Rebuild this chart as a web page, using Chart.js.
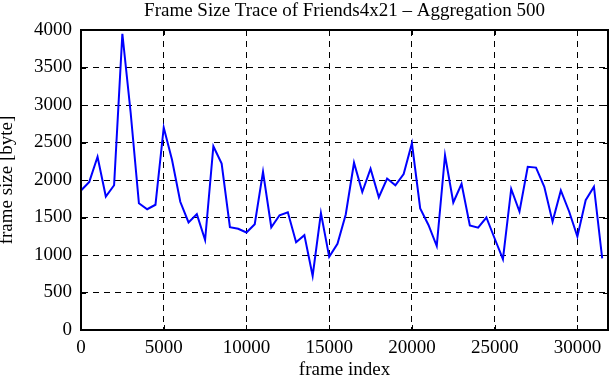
<!DOCTYPE html>
<html>
<head>
<meta charset="utf-8">
<script src="https://cdn.jsdelivr.net/npm/chart.js@4.4.0/dist/chart.umd.min.js"></script>
<style>
  html, body { margin: 0; padding: 0; background: #fff; }
  #wrap { width: 611px; height: 380px; }
</style>
</head>
<body>
<div id="wrap"><canvas id="traceChart"></canvas></div>
<script>
const frameIndex = [0, 500, 1000, 1500, 2000, 2500, 3000, 3500, 4000, 4500,
  5000, 5500, 6000, 6500, 7000, 7500, 8000, 8500, 9000, 9500,
  10000, 10500, 11000, 11500, 12000, 12500, 13000, 13500, 14000, 14500,
  15000, 15500, 16000, 16500, 17000, 17500, 18000, 18500, 19000, 19500,
  20000, 20500, 21000, 21500, 22000, 22500, 23000, 23500, 24000, 24500,
  25000, 25500, 26000, 26500, 27000, 27500, 28000, 28500, 29000, 29500,
  30000, 30500, 31000, 31500];

const frameSize = [1860, 1975, 2310, 1780, 1930, 3950, 2900, 1690, 1610, 1670,
  2700, 2270, 1710, 1435, 1545, 1200, 2450, 2220, 1370, 1350,
  1300, 1410, 2110, 1370, 1530, 1570, 1170, 1265, 720, 1560,
  975, 1150, 1540, 2230, 1840, 2150, 1770, 2020, 1930, 2080,
  2490, 1620, 1400, 1120, 2330, 1700, 1950, 1395, 1365, 1500,
  1220, 945, 1880, 1580, 2175, 2165, 1910, 1445, 1860, 1580,
  1245, 1730, 1910, 955];

const xTicks = [0, 5000, 10000, 15000, 20000, 25000, 30000];
const serif = '"Liberation Serif", "DejaVu Serif", serif';

// matlab-ish frame: box on all sides plus inward tick marks
const framePlugin = {
    id: 'frame',
    afterDraw(chart) {
        const { ctx, chartArea: a, scales } = chart;
        ctx.save();
        ctx.strokeStyle = '#000';
        ctx.lineWidth = 1;
        const len = 5;
        scales.x.ticks.forEach(t => {
            const px = Math.round(scales.x.getPixelForValue(t.value)) + 0.5;
            ctx.beginPath();
            ctx.moveTo(px, a.bottom); ctx.lineTo(px, a.bottom - len);
            ctx.moveTo(px, a.top); ctx.lineTo(px, a.top + len);
            ctx.stroke();
        });
        scales.y.ticks.forEach(t => {
            const py = Math.round(scales.y.getPixelForValue(t.value)) + 0.5;
            ctx.beginPath();
            ctx.moveTo(a.left, py); ctx.lineTo(a.left + len, py);
            ctx.moveTo(a.right, py); ctx.lineTo(a.right - len, py);
            ctx.stroke();
        });
        ctx.lineWidth = 2;
        ctx.strokeRect(a.left, a.top, a.right - a.left, a.bottom - a.top);
        ctx.restore();
    }
};

new Chart(document.getElementById('traceChart'), {
    type: 'line',
    data: {
        datasets: [{
            label: 'frame size',
            data: frameIndex.map((f, i) => ({ x: f, y: frameSize[i] })),
            borderColor: '#0000ff',
            borderWidth: 2,
            pointRadius: 0,
            tension: 0,
            fill: false
        }]
    },
    options: {
        responsive: true,
        maintainAspectRatio: false,
        animation: false,
        layout: { padding: { top: 0, right: 3, left: 0, bottom: 0 } },
        plugins: {
            legend: { display: false },
            tooltip: { enabled: false },
            title: { display: false }
        },
        scales: {
            x: {
                type: 'linear',
                min: 0,
                max: 31850,
                afterFit: (s) => { s.height = 50; },
                afterBuildTicks: (axis) => {
                    axis.ticks = xTicks.map(v => ({ value: v }));
                },
                ticks: {
                    color: '#000',
                    font: { family: serif, size: 19 },
                    padding: 7,
                    maxRotation: 0,
                    callback: (v) => String(v)
                },
                grid: { color: '#000', lineWidth: 1, drawTicks: false },
                border: { display: true, color: '#000', width: 2, dash: [6, 5] },
                title: {
                    display: true,
                    text: 'frame index',
                    color: '#000',
                    font: { family: serif, size: 19, lineHeight: 1 },
                    padding: { top: 0, bottom: 0 }
                }
            },
            // top axis only carries the title so it centres over the plot area
            top: {
                type: 'linear',
                position: 'top',
                min: 0,
                max: 31850,
                afterFit: (s) => { s.height = 30; },
                ticks: { display: false },
                grid: { display: false, drawTicks: false },
                border: { display: false },
                title: {
                    display: true,
                    text: 'Frame Size Trace of Friends4x21 \u2013 Aggregation 500',
                    color: '#000',
                    font: { family: serif, size: 19, lineHeight: 1.2 },
                    padding: { top: 0, bottom: 0 }
                }
            },
            y: {
                min: 0,
                max: 4000,
                afterFit: (s) => { s.width = 81; },
                ticks: {
                    stepSize: 500,
                    color: '#000',
                    font: { family: serif, size: 19 },
                    padding: 9,
                    callback: (v) => String(v)
                },
                grid: { color: '#000', lineWidth: 1, drawTicks: false },
                border: { display: true, color: '#000', width: 2, dash: [6, 5] },
                title: {
                    display: true,
                    text: 'frame size [byte]',
                    color: '#000',
                    font: { family: serif, size: 19, lineHeight: 1 },
                    padding: { top: -2, bottom: 0 }
                }
            }
        }
    },
    plugins: [framePlugin]
});
</script>
</body>
</html>
